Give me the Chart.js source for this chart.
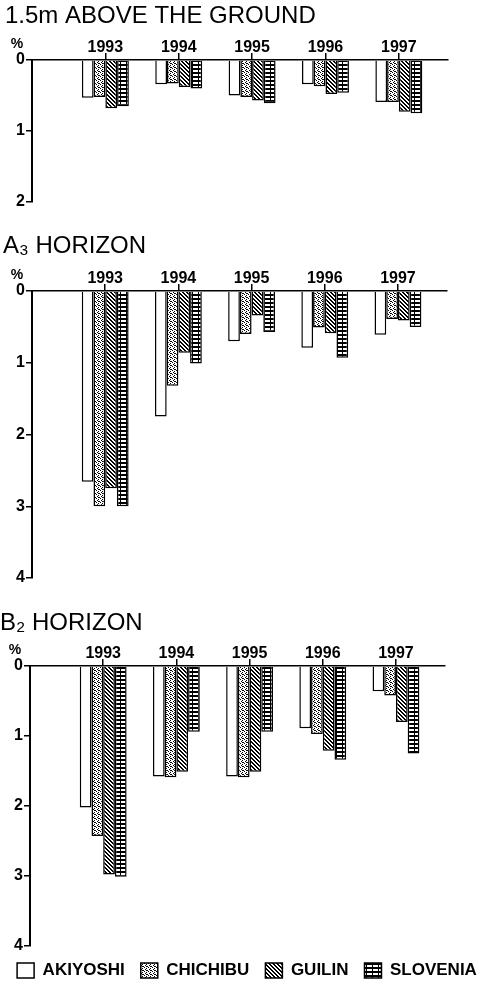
<!DOCTYPE html>
<html>
<head>
<meta charset="utf-8">
<script src="https://cdn.jsdelivr.net/npm/chart.js@4/dist/chart.umd.min.js"></script>
<style>
  html, body { margin: 0; padding: 0; background: #fff; width: 494px; height: 989px; overflow: hidden; }
  .panel { position: absolute; left: 0; width: 494px; }
</style>
</head>
<body>
<div class="panel" style="top:0px;height:220px"><canvas id="ground"></canvas></div>
<div class="panel" style="top:230px;height:365px"><canvas id="a3"></canvas></div>
<div class="panel" style="top:607px;height:382px"><canvas id="b2"></canvas></div>
<script>
// Sampling years and sites
const years = [1993, 1994, 1995, 1996, 1997];
const sites = ['AKIYOSHI', 'CHICHIBU', 'GUILIN', 'SLOVENIA'];
const yTicks = [0, 1, 2, 3, 4];

// Weight loss (%) at 1.5 m above the ground
const groundAkiyoshi = [0.53, 0.34, 0.50, 0.34, 0.59];
const groundChichibu = [0.52, 0.33, 0.52, 0.37, 0.59];
const groundGuilin   = [0.68, 0.38, 0.57, 0.48, 0.73];
const groundSlovenia = [0.65, 0.40, 0.61, 0.46, 0.75];

// Weight loss (%) in the A3 horizon
const a3Akiyoshi = [2.66, 1.75, 0.70, 0.79, 0.61];
const a3Chichibu = [3.00, 1.32, 0.60, 0.51, 0.39];
const a3Guilin   = [2.75, 0.86, 0.34, 0.59, 0.41];
const a3Slovenia = [3.00, 1.01, 0.57, 0.93, 0.50];

// Weight loss (%) in the B2 horizon
const b2Akiyoshi = [2.02, 1.58, 1.58, 0.89, 0.36];
const b2Chichibu = [2.43, 1.59, 1.59, 0.97, 0.42];
const b2Guilin   = [2.98, 1.51, 1.51, 1.21, 0.80];
const b2Slovenia = [3.01, 0.94, 0.94, 1.34, 1.25];

const FONT = '"Liberation Sans", Arial, Helvetica, sans-serif';

// ---- monochrome fill patterns ----
function tile(w, h, paint) {
  const c = document.createElement('canvas');
  c.width = w; c.height = h;
  const g = c.getContext('2d');
  g.fillStyle = '#fff';
  g.fillRect(0, 0, w, h);
  g.fillStyle = '#000';
  paint(g, w, h);
  return g.createPattern(c, 'repeat');
}
const stipple = tile(4, 4, g => {
  [[0, 0], [2, 1], [1, 2], [3, 3], [2, 3]].forEach(([x, y]) => g.fillRect(x, y, 1, 1));
});
const diagonal = tile(4, 4, (g, w, h) => {
  for (let y = 0; y < h; y++) for (let x = 0; x < w; x++) {
    const d = ((x - y) % 4 + 4) % 4;
    if (d === 0 || d === 1) g.fillRect(x, y, 1, 1);
  }
});
const ladder = tile(6, 4, g => {
  g.fillRect(0, 0, 6, 4);
  g.fillStyle = '#fff';
  g.fillRect(1, 2, 5, 2);
});
const fills = ['#ffffff', stipple, diagonal, ladder];

// "%" unit mark above the value axis
const percentMark = {
  id: 'percentMark',
  afterDraw(chart) {
    const { ctx, chartArea } = chart;
    ctx.save();
    ctx.font = 'bold 14px ' + FONT;
    ctx.fillStyle = '#000';
    ctx.textAlign = 'center';
    ctx.textBaseline = 'middle';
    ctx.fillText('%', chartArea.left - 15, chartArea.top - 16);
    ctx.restore();
  }
};

function makePanel(id, title, series, cfg) {
  const datasets = sites.map((site, i) => ({
    label: site,
    data: years.map((yr, j) => ({ x: yr, y: series[i][j] })),
    backgroundColor: fills[i],
    borderColor: '#000',
    borderWidth: 1.5,
    categoryPercentage: 0.64,
    barPercentage: 1.0
  }));
  return new Chart(document.getElementById(id), {
    type: 'bar',
    data: { datasets },
    plugins: [percentMark],
    options: {
      responsive: true,
      maintainAspectRatio: false,
      animation: false,
      layout: { padding: { left: cfg.pad, right: 0, top: 0, bottom: cfg.bottom } },
      plugins: {
        tooltip: { enabled: false },
        title: {
          display: true,
          text: title,
          align: 'start',
          color: '#000',
          font: { family: FONT, size: 24, weight: 'normal', lineHeight: 1.2 },
          padding: { top: 2, bottom: 0 }
        },
        legend: {
          display: !!cfg.legend,
          position: 'bottom',
          align: 'center',
          labels: {
            color: '#000',
            boxWidth: 17,
            boxHeight: 15,
            padding: 16,
            font: { family: FONT, size: 17, weight: 'bold' }
          }
        }
      },
      scales: {
        x: {
          type: 'linear',
          position: 'top',
          min: 1992,
          max: 1997.67,
          offset: false,
          afterBuildTicks: s => { s.ticks = years.map(v => ({ value: v })); },
          afterFit: s => { s.height = cfg.xHeight; },
          grid: { display: true, drawOnChartArea: false, drawTicks: true, tickLength: 7, offset: false, color: '#000', lineWidth: 1.5 },
          border: { display: true, color: '#000', width: 1.5 },
          ticks: {
            color: '#000', padding: -4, maxRotation: 0, autoSkip: false,
            font: { family: FONT, size: 16, weight: 'bold' },
            callback: v => String(v)
          }
        },
        y: {
          type: 'linear',
          reverse: true,
          min: 0,
          max: cfg.max,
          afterFit: s => { s.width = cfg.left - cfg.pad; },
          afterBuildTicks: s => { s.ticks = yTicks.filter(v => v <= cfg.max).map(v => ({ value: v })); },
          grid: { display: true, drawOnChartArea: false, tickLength: 6, color: '#000', lineWidth: 1.5 },
          border: { display: true, color: '#000', width: 2 },
          ticks: { color: '#000', padding: 1, font: { family: FONT, size: 16, weight: 'bold' } }
        },
        // empty right-hand margin so the zero line stops short of the page edge
        margin: {
          type: 'linear',
          position: 'right',
          afterFit: s => { s.width = 494 - cfg.right; },
          grid: { display: false },
          border: { display: false },
          ticks: { display: false }
        }
      }
    }
  });
}

makePanel('ground', '1.5m ABOVE THE GROUND',
  [groundAkiyoshi, groundChichibu, groundGuilin, groundSlovenia],
  { pad: 5, left: 32, right: 448, max: 2, xHeight: 29.2, bottom: 18 });

makePanel('a3', 'A\u2083 HORIZON',
  [a3Akiyoshi, a3Chichibu, a3Guilin, a3Slovenia],
  { pad: 3, left: 32, right: 447, max: 4, xHeight: 30.2, bottom: 17 });

makePanel('b2', 'B\u2082 HORIZON',
  [b2Akiyoshi, b2Chichibu, b2Guilin, b2Slovenia],
  { pad: 0, left: 30, right: 445, max: 4, xHeight: 28.2, bottom: 0, legend: true });
</script>
</body>
</html>
